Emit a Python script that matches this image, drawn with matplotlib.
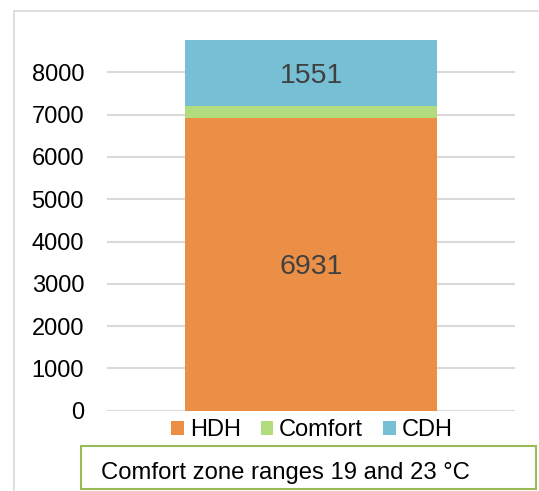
import matplotlib
matplotlib.use("Agg")
import matplotlib.pyplot as plt
from matplotlib.patches import Rectangle, Patch

plt.rcParams['font.family'] = ['Liberation Sans', 'DejaVu Sans']

categories = ["HDH", "Comfort", "CDH"]
values = [6931, 278, 1551]
colors = ["#EB8F47", "#B1DD7F", "#77BFD4"]
show_label = [True, False, True]
yticks = [0, 1000, 2000, 3000, 4000, 5000, 6000, 7000, 8000]
note = "Comfort zone ranges 19 and 23 \u00b0C"

W, H = 539, 491
fig = plt.figure(figsize=(W / 100, H / 100), dpi=100)

# outer chart frame (partly cropped)
fig.patches.append(Rectangle((14 / W, -0.2), 2.0, 1.2 - 11 / H,
                             transform=fig.transFigure, fill=False,
                             edgecolor="#D9D9D9", linewidth=1.2, zorder=0))

ax = fig.add_axes([107 / W, 1 - 410.7 / H, (515 - 107) / W, (410.7 - 30) / H])
bottom = 0
for cat, v, c, sl in zip(categories, values, colors, show_label):
    ax.bar(0, v, bottom=bottom, width=0.617, color=c, label=cat, zorder=3)
    if sl:
        ax.text(0, bottom + v / 2, f"{v}", ha="center", va="center_baseline",
                fontsize=20.5, color="#404040", zorder=4)
    bottom += v

ax.set_xlim(-0.5, 0.5)
ax.set_ylim(0, 9000)
ax.set_yticks(yticks)
ax.set_yticklabels([str(t) for t in yticks])
ax.set_xticks([])
ax.tick_params(axis="y", length=0, pad=16.5, labelsize=17, labelcolor="#000000")
for s in ax.spines.values():
    s.set_visible(False)
ax.yaxis.grid(True, color="#D9D9D9", linewidth=1.5, zorder=0)
ax.set_axisbelow(True)

handles = [Patch(facecolor=c, edgecolor="none") for c in colors]
fig.legend(handles, categories, loc="center", bbox_to_anchor=(312 / W, 1 - 430 / H),
           ncol=3, frameon=False, fontsize=17, handlelength=0.52, handleheight=0.52,
           handletextpad=0.26, columnspacing=0.85, borderpad=0, borderaxespad=0)

# note box
fig.patches.append(Rectangle((81 / W, 1 - 489 / H), (536 - 81) / W, (489 - 446) / H,
                             transform=fig.transFigure, fill=False,
                             edgecolor="#9BBB59", linewidth=1.5, zorder=2))
fig.text(101 / W, 1 - 479.5 / H, note, ha="left", va="baseline",
         fontsize=17.2, color="#000000")

fig.savefig("out.png", dpi=100)
